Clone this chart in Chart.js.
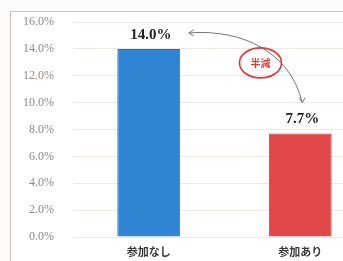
<!DOCTYPE html>
<html>
<head>
<meta charset="utf-8">
<script src="https://cdn.jsdelivr.net/npm/chart.js@4"></script>
<style>
  html, body { margin: 0; padding: 0; background: #fdfcfb; overflow: hidden; width: 343px; height: 261px; }
  #frame { position: absolute; left: 10px; top: 11px; width: 372px; height: 262px; border: 1.5px solid #cbc2bb; background: #fff; }
  canvas { position: absolute; left: 0; top: 0; display: block; }
</style>
</head>
<body>
<div id="frame"><canvas id="chart" width="370" height="250"></canvas></div>
<script>
// data
const categories = ["参加なし", "参加あり"];
const rates = [14.0, 7.7];
const barColors = ["#2f84d3", "#e24848"];
const tickValues = [0, 2, 4, 6, 8, 10, 12, 14, 16];
const noteText = "半減";

// value labels above the bars + the curved "halved" arrow
const notePlugin = {
  id: "notes",
  afterDatasetsDraw(chart) {
    const ctx = chart.ctx;
    const bars = chart.getDatasetMeta(0).data;
    ctx.save();
    ctx.fillStyle = "#222";
    ctx.font = "bold 15px 'Liberation Serif'";
    ctx.textAlign = "center";
    ctx.textBaseline = "middle";
    bars.forEach((b, i) => {
      ctx.fillText(rates[i].toFixed(1) + "%", b.x + 2, b.y - 14);
    });

    const a = bars[0], c = bars[1];
    const x0 = a.x + 40, y0 = a.y - 16;
    const x3 = c.x + 2, y3 = c.y - 31;
    ctx.strokeStyle = "#777";
    ctx.lineWidth = 1;
    ctx.beginPath();
    ctx.moveTo(x0, y0);
    ctx.bezierCurveTo(x0 + 55, y0 - 4, x3 - 12, y0 + 20, x3, y3);
    ctx.stroke();
    // arrow heads
    ctx.beginPath();
    ctx.moveTo(x0 + 5, y0 - 3);
    ctx.lineTo(x0, y0);
    ctx.lineTo(x0 + 5, y0 + 3);
    ctx.moveTo(x3 - 3, y3 - 5);
    ctx.lineTo(x3, y3);
    ctx.lineTo(x3 + 3, y3 - 5);
    ctx.stroke();

    // red ellipse with text
    const ex = (a.x + c.x) / 2 + 36;
    const ey = a.y + 14;
    ctx.strokeStyle = "#e03a36";
    ctx.lineWidth = 1.6;
    ctx.beginPath();
    ctx.ellipse(ex, ey, 21, 15, 0, 0, Math.PI * 2);
    ctx.stroke();
    ctx.fillStyle = "#e03a36";
    ctx.font = "bold 10px 'Noto Sans CJK JP'";
    ctx.fillText(noteText, ex, ey);
    ctx.restore();
  }
};

new Chart(document.getElementById("chart"), {
  type: "bar",
  data: {
    labels: categories,
    datasets: [{
      data: rates,
      backgroundColor: barColors,
      borderColor: ["#2570bb", "#cc3a3a"],
      borderWidth: 1,
      barPercentage: 0.83,
      categoryPercentage: 0.5
    }]
  },
  options: {
    responsive: false,
    animation: false,
    layout: { autoPadding: false, padding: { top: 10, right: 5, left: 0, bottom: 0 } },
    plugins: { legend: { display: false }, tooltip: { enabled: false } },
    scales: {
      y: {
        min: 0,
        max: 16,
        afterFit: (s) => { s.width = 62; s.paddingTop = 0; s.paddingBottom = 0; },
        afterBuildTicks: (s) => { s.ticks = tickValues.map((v) => ({ value: v })); },
        ticks: {
          padding: 19,
          color: "#8f8a86",
          font: { family: "Liberation Serif", size: 12 },
          callback: (v) => v.toFixed(1) + "%"
        },
        grid: { color: "rgba(235,222,218,0.7)", drawTicks: false },
        border: { display: false }
      },
      x: {
        afterFit: (s) => { s.height = 25; },
        ticks: {
          padding: 8,
          color: "#3a3a3a",
          font: { family: "Noto Sans CJK JP", size: 11, weight: "bold" }
        },
        grid: { display: false, drawTicks: false },
        border: { display: false }
      }
    }
  },
  plugins: [notePlugin]
});
</script>
</body>
</html>
